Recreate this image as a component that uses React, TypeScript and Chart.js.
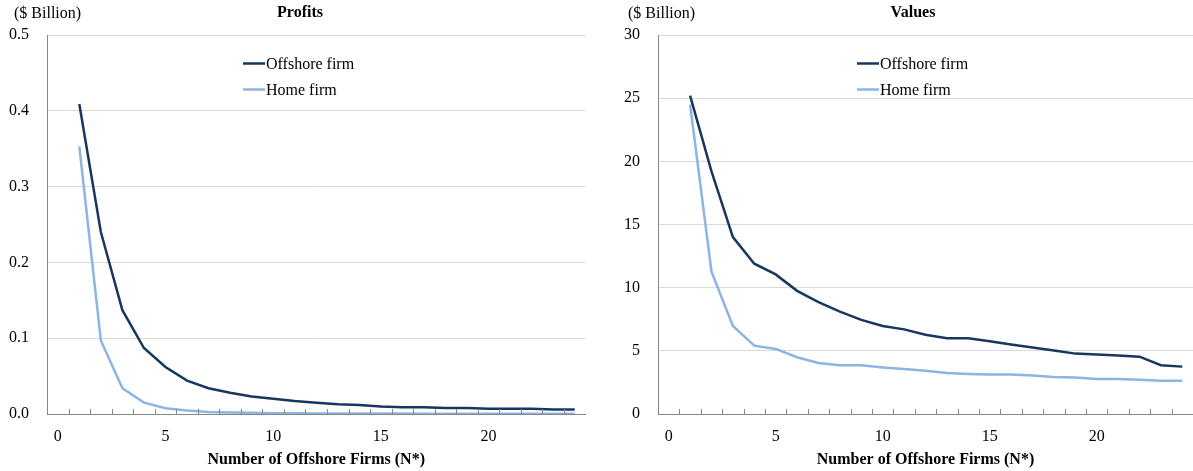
import React, { useEffect, useRef } from "react";
import { Chart, registerables } from "chart.js";

Chart.register(...registerables);

const FONT = '"Liberation Serif", "Times New Roman", Times, serif';
const AXIS = "#868686";
const GRID = "#d9d9d9";
const DARK = "#17375E";
const LIGHT = "#8DB4E2";

// Data
const firms = [1, 2, 3, 4, 5, 6, 7, 8, 9, 10, 11, 12, 13, 14, 15, 16, 17, 18, 19, 20, 21, 22, 23, 24];
const profitsOffshore = [0.409, 0.240, 0.137, 0.087, 0.062, 0.044, 0.034, 0.028, 0.023, 0.020, 0.017, 0.015, 0.013, 0.012, 0.010, 0.009, 0.009, 0.008, 0.008, 0.007, 0.007, 0.007, 0.006, 0.006];
const profitsHome = [0.353, 0.097, 0.034, 0.015, 0.0075, 0.0045, 0.0025, 0.002, 0.0015, 0.001, 0.001, 0.0008, 0.0007, 0.0006, 0.0005, 0.0005, 0.0004, 0.0004, 0.0003, 0.0003, 0.0003, 0.0003, 0.0002, 0.0002];
const valuesOffshore = [25.2, 19.2, 14.0, 11.9, 11.05, 9.75, 8.85, 8.1, 7.45, 6.97, 6.7, 6.28, 6.0, 6.0, 5.75, 5.5, 5.27, 5.03, 4.78, 4.7, 4.64, 4.54, 3.86, 3.75];
const valuesHome = [24.5, 11.27, 6.97, 5.41, 5.15, 4.49, 4.04, 3.86, 3.85, 3.69, 3.56, 3.43, 3.25, 3.17, 3.12, 3.12, 3.04, 2.93, 2.88, 2.77, 2.77, 2.72, 2.64, 2.64];
const seriesLabels = ["Offshore firm", "Home firm"];
const xTickValues = [0, 5, 10, 15, 20];
const xCategoryCount = 25;
const xTitle = "Number of Offshore Firms (N*)";
const unitLabel = "($ Billion)";

const decorPlugin = {
  id: "decor",
  afterDraw(chart: any, _args: any, opts: any) {
    const ctx = chart.ctx;
    const { left, top, bottom } = chart.chartArea;
    const xs = chart.scales.x;
    ctx.save();
    // inner tick marks on the x axis
    ctx.strokeStyle = AXIS;
    ctx.lineWidth = 1;
    for (let k = 0; k < xCategoryCount - 1; k++) {
      const px = Math.round(xs.getPixelForValue(k + 0.5)) + 0.5;
      ctx.beginPath();
      ctx.moveTo(px, bottom);
      ctx.lineTo(px, bottom - 5);
      ctx.stroke();
    }
    // title
    ctx.fillStyle = "#000";
    ctx.textBaseline = "middle";
    ctx.font = `bold 16px ${FONT}`;
    ctx.textAlign = "center";
    ctx.fillText(opts.title, opts.titleX, 13);
    // unit label
    ctx.font = `16px ${FONT}`;
    ctx.textAlign = "left";
    ctx.fillText(unitLabel, opts.unitX, 14);
    // legend
    chart.data.datasets.forEach((ds: any, i: number) => {
      const y = Math.round(top + 28 + i * 26) + 0.5;
      const x = left + opts.legendDx;
      ctx.strokeStyle = ds.borderColor;
      ctx.lineWidth = 2.5;
      ctx.beginPath();
      ctx.moveTo(x, y);
      ctx.lineTo(x + 22, y);
      ctx.stroke();
      ctx.fillStyle = "#000";
      ctx.fillText(ds.label, x + 23, y + 1);
    });
    ctx.restore();
  },
};

type PanelProps = {
  width: number;
  title: string;
  titleX: number;
  unitX: number;
  legendDx: number;
  yAxisWidth: number;
  rightPad: number;
  yMax: number;
  yStep: number;
  yDecimals: number;
  offshore: number[];
  home: number[];
};

function Panel(p: PanelProps) {
  const ref = useRef<HTMLCanvasElement | null>(null);
  useEffect(() => {
    if (!ref.current) return;
    const chart = new Chart(ref.current, {
      type: "line",
      data: {
        datasets: [
          {
            label: seriesLabels[0],
            data: firms.map((f, i) => ({ x: f, y: p.offshore[i] })),
            borderColor: DARK,
            backgroundColor: DARK,
            borderWidth: 2.5,
            pointRadius: 0,
            tension: 0,
          },
          {
            label: seriesLabels[1],
            data: firms.map((f, i) => ({ x: f, y: p.home[i] })),
            borderColor: LIGHT,
            backgroundColor: LIGHT,
            borderWidth: 2.5,
            pointRadius: 0,
            tension: 0,
          },
        ],
      },
      options: {
        responsive: false,
        animation: false,
        layout: { padding: { top: 35, right: p.rightPad, left: 0, bottom: 0 } },
        plugins: {
          legend: { display: false },
          tooltip: { enabled: false },
          title: { display: false },
          decor: { title: p.title, titleX: p.titleX, unitX: p.unitX, legendDx: p.legendDx },
        } as any,
        scales: {
          x: {
            type: "linear",
            min: -0.5,
            max: xCategoryCount - 0.5,
            afterBuildTicks: (scale: any) => {
              scale.ticks = xTickValues.map((v) => ({ value: v }));
            },
            afterFit: (scale: any) => {
              scale.height = 57;
            },
            grid: { drawOnChartArea: false, drawTicks: false },
            border: { display: true, color: AXIS, width: 1 },
            ticks: {
              color: "#000",
              padding: 13,
              font: { family: FONT, size: 16 },
              maxRotation: 0,
              callback: (v: any) => String(v),
            },
            title: {
              display: true,
              text: xTitle,
              color: "#000",
              font: { family: FONT, size: 16, weight: "bold" },
              padding: { top: 0, bottom: 2 },
            },
          },
          y: {
            type: "linear",
            min: 0,
            max: p.yMax,
            afterFit: (scale: any) => {
              scale.width = p.yAxisWidth;
            },
            grid: { color: GRID, drawTicks: false },
            border: { display: true, color: AXIS, width: 1 },
            ticks: {
              stepSize: p.yStep,
              color: "#000",
              padding: 18,
              font: { family: FONT, size: 16 },
              callback: (v: any) => Number(v).toFixed(p.yDecimals),
            },
          },
        },
      } as any,
      plugins: [decorPlugin as any],
    });
    return () => chart.destroy();
  }, []);
  return (
    <div style={{ width: p.width, height: 471 }}>
      <canvas ref={ref} width={p.width} height={471} style={{ display: "block" }} />
    </div>
  );
}

export default function App() {
  return (
    <div
      style={{
        position: "fixed",
        left: 0,
        top: 0,
        width: 1193,
        height: 471,
        display: "flex",
        background: "#fff",
      }}
    >
      <Panel
        width={596}
        title="Profits"
        titleX={300}
        unitX={14}
        legendDx={196}
        yAxisWidth={47}
        rightPad={10.5}
        yMax={0.5}
        yStep={0.1}
        yDecimals={1}
        offshore={profitsOffshore}
        home={profitsHome}
      />
      <Panel
        width={597}
        title="Values"
        titleX={317}
        unitX={32}
        legendDx={199}
        yAxisWidth={62}
        rightPad={0}
        yMax={30}
        yStep={5}
        yDecimals={0}
        offshore={valuesOffshore}
        home={valuesHome}
      />
    </div>
  );
}
